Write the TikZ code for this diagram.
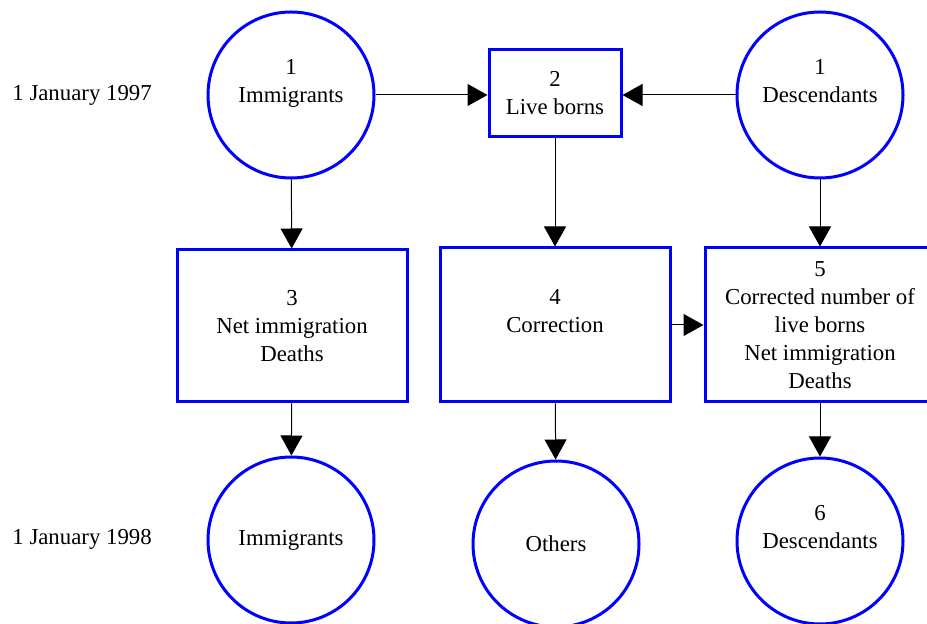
\documentclass[tikz,border=0pt]{standalone}
\usepackage{fontspec}
\setmainfont{Liberation Serif}
\usetikzlibrary{arrows.meta}

\begin{document}
\begin{tikzpicture}[
    x=0.5pt, y=-0.5pt,
    >={Triangle[length=10pt,width=11pt]},
    font=\fontsize{11.4}{14}\selectfont,
    pop/.style={draw=blue, line width=1.5pt, circle, minimum size=83pt,
                inner sep=0pt, align=center},
    flow/.style={draw=blue, line width=1.5pt, rectangle, inner sep=0pt,
                 align=center},
    date/.style={anchor=west, inner sep=0pt},
    arrow/.style={->, line width=0.5pt},
]
    \useasboundingbox (0,0) rectangle (927,624);

    % Dates
    \node[date] (d97) at (12,95) {1 January 1997};
    \node[date] (d98) at (12,539) {1 January 1998};

    % Stocks at the start
    \node[pop] (imm1) at (291,95) {1\\Immigrants\\~};
    \node[flow, minimum width=66pt, minimum height=43.5pt] (live) at (555,93.5) {2\\Live borns};
    \node[pop] (desc1) at (820,95) {1\\Descendants\\~};

    % Flows
    \node[flow, minimum width=115pt, minimum height=76pt] (net) at (292,326)
        {3\\Net immigration\\Deaths};
    \node[flow, minimum width=115pt, minimum height=77pt] (corr) at (555,325)
        {4\\Correction\\~};
    \node[flow, minimum width=115pt, minimum height=77pt] (fix) at (820,325)
        {5\\Corrected number of\\live borns\\Net immigration\\Deaths};

    % Stocks at the end
    \node[pop] (imm2) at (291,540) {Immigrants};
    \node[pop] (oth) at (556,544) {Others};
    \node[pop] (desc2) at (820,541) {6\\Descendants\\~};

    % Connections
    \draw[arrow] (imm1) -- (imm1 -| live.west);
    \draw[arrow] (desc1) -- (desc1 -| live.east);
    \draw[arrow] (imm1) -- (net);
    \draw[arrow] (live) -- (corr);
    \draw[arrow] (desc1) -- (fix);
    \draw[arrow] (corr) -- (fix);
    \draw[arrow] (net) -- (imm2);
    \draw[arrow] (corr) -- (oth);
    \draw[arrow] (fix) -- (desc2);

\end{tikzpicture}
\end{document}
